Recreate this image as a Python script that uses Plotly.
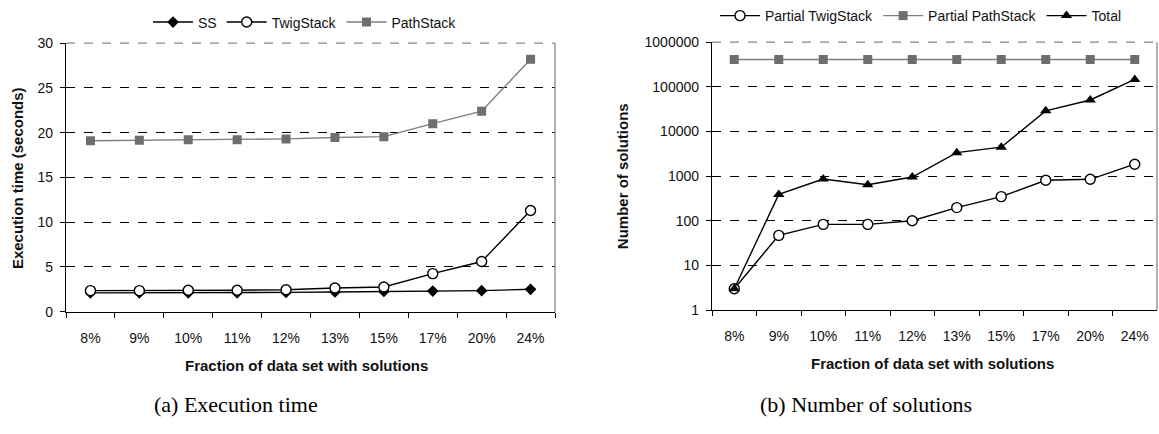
import plotly.graph_objects as go

categories = ["8%", "9%", "10%", "11%", "12%", "13%", "15%", "17%", "20%", "24%"]

ss_time = [2.1, 2.1, 2.1, 2.1, 2.15, 2.2, 2.25, 2.3, 2.35, 2.5]
twig_time = [2.35, 2.35, 2.4, 2.4, 2.45, 2.65, 2.75, 4.25, 5.6, 11.3]
path_time = [19.1, 19.15, 19.2, 19.2, 19.3, 19.45, 19.55, 21.0, 22.4, 28.2]

partial_twig = [3, 47, 83, 83, 100, 197, 347, 806, 847, 1845]
partial_path = [409000] * 10
total = [3, 389, 861, 640, 951, 3350, 4440, 28900, 50700, 146000]

left_ticks = [0, 5, 10, 15, 20, 25, 30]
right_ticks = [1, 10, 100, 1000, 10000, 100000, 1000000]
right_tick_text = ["1", "10", "100", "1000", "10000", "100000", "1000000"]

FONT = "Liberation Sans, Arial, sans-serif"
W, H = 1159, 434

def px_x(x):
    return x / W

def px_y(y):
    return 1 - y / H

fig = go.Figure()

GRAY = "#6e6e6e"
LGRAY = "#7f7f7f"

fig.add_trace(go.Scatter(x=categories, y=ss_time, name="SS", mode="lines+markers",
                         line=dict(color="black", width=1.4),
                         marker=dict(symbol="diamond", size=9, color="black"),
                         xaxis="x", yaxis="y", legend="legend"))
fig.add_trace(go.Scatter(x=categories, y=twig_time, name="TwigStack", mode="lines+markers",
                         line=dict(color="black", width=1.4),
                         marker=dict(symbol="circle", size=10, color="white",
                                     line=dict(color="black", width=1.4)),
                         xaxis="x", yaxis="y", legend="legend"))
fig.add_trace(go.Scatter(x=categories, y=path_time, name="PathStack", mode="lines+markers",
                         line=dict(color=LGRAY, width=1.4),
                         marker=dict(symbol="square", size=9, color=GRAY),
                         xaxis="x", yaxis="y", legend="legend"))

fig.add_trace(go.Scatter(x=categories, y=partial_twig, name="Partial TwigStack", mode="lines+markers",
                         line=dict(color="black", width=1.4),
                         marker=dict(symbol="circle", size=10, color="white",
                                     line=dict(color="black", width=1.4)),
                         xaxis="x2", yaxis="y2", legend="legend2"))
fig.add_trace(go.Scatter(x=categories, y=partial_path, name="Partial PathStack", mode="lines+markers",
                         line=dict(color=LGRAY, width=1.4),
                         marker=dict(symbol="square", size=9, color=GRAY),
                         xaxis="x2", yaxis="y2", legend="legend2"))
fig.add_trace(go.Scatter(x=categories, y=total, name="Total", mode="lines+markers",
                         line=dict(color="black", width=1.4),
                         marker=dict(symbol="triangle-up", size=10, color="black"),
                         xaxis="x2", yaxis="y2", legend="legend2"))

ydom1 = [px_y(315), px_y(35.5)]
ydom2 = [px_y(313.3), px_y(34.5)]
xdom1 = [px_x(66), px_x(555)]
xdom2 = [px_x(712), px_x(1157)]

xcommon = dict(type="category", tickson="boundaries", ticks="outside", ticklen=5,
               tickcolor="black", showline=True, linecolor="black", linewidth=1.3,
               showgrid=False, zeroline=False, range=[-0.5, 9.5], ticklabelstandoff=13,
               tickfont=dict(family=FONT, size=14, color="#111"))
ycommon = dict(ticks="outside", ticklen=5, tickcolor="black", showline=True,
               linecolor="black", linewidth=1.3, showgrid=True, gridcolor="black",
               griddash="dash", gridwidth=1, zeroline=False, ticklabelstandoff=4,
               tickfont=dict(family=FONT, size=14, color="#111"))

LEGFONT = dict(family=FONT, size=14, color="#111")
fig.update_layout(
    width=W, height=H,
    margin=dict(l=0, r=0, t=0, b=0),
    paper_bgcolor="white", plot_bgcolor="white",
    xaxis=dict(domain=xdom1, anchor="y", **xcommon),
    yaxis=dict(domain=ydom1, anchor="x", range=[0, 30], tickvals=left_ticks, **ycommon),
    xaxis2=dict(domain=xdom2, anchor="y2", **xcommon),
    yaxis2=dict(domain=ydom2, anchor="x2", type="log", range=[0, 6],
                tickvals=right_ticks, ticktext=right_tick_text, **ycommon),
    legend=dict(orientation="h", x=px_x(305), xanchor="center", y=px_y(14), yanchor="middle",
                font=LEGFONT, bgcolor="rgba(0,0,0,0)", itemwidth=40, tracegroupgap=0),
    legend2=dict(orientation="h", x=px_x(921), xanchor="center", y=px_y(7), yanchor="middle",
                 font=LEGFONT, bgcolor="rgba(0,0,0,0)", itemwidth=40, tracegroupgap=0),
    showlegend=True,
)

# plot-area borders (gray) on top and right
for xd, yd in ((xdom1, ydom1), (xdom2, ydom2)):
    fig.add_shape(type="line", xref="paper", yref="paper", x0=xd[0], x1=xd[1], y0=yd[1], y1=yd[1],
                  line=dict(color="#888", width=1.3, dash="dash"))
    fig.add_shape(type="line", xref="paper", yref="paper", x0=xd[1], x1=xd[1], y0=yd[0], y1=yd[1],
                  line=dict(color="#888", width=1.3))

TITLE = 15
annots = [
    dict(text="<b>Execution time (seconds)</b>", x=px_x(17), y=px_y(176), textangle=-90),
    dict(text="<b>Number of solutions</b>", x=px_x(622), y=px_y(174), textangle=-90),
    dict(text="<b>Fraction of data set with solutions</b>", x=px_x(306), y=px_y(371), textangle=0),
    dict(text="<b>Fraction of data set with solutions</b>", x=px_x(932), y=px_y(369), textangle=0),
]
for a in annots:
    fig.add_annotation(text=a["text"], x=a["x"], y=a["y"], xref="paper", yref="paper",
                       showarrow=False, textangle=a["textangle"], xanchor="center", yanchor="middle",
                       font=dict(family=FONT, size=TITLE, color="#111"))

SERIF = "Liberation Serif, Times New Roman, serif"
fig.add_annotation(text="(a) Execution time", x=px_x(236), y=px_y(412), xref="paper", yref="paper",
                   showarrow=False, xanchor="center", yanchor="middle",
                   font=dict(family=SERIF, size=22, color="black"))
fig.add_annotation(text="(b) Number of solutions", x=px_x(866), y=px_y(412), xref="paper", yref="paper",
                   showarrow=False, xanchor="center", yanchor="middle",
                   font=dict(family=SERIF, size=22, color="black"))

fig.write_html("out.html", config={"displayModeBar": False},
               post_script="document.body.style.margin='0';document.body.style.padding='0';")
